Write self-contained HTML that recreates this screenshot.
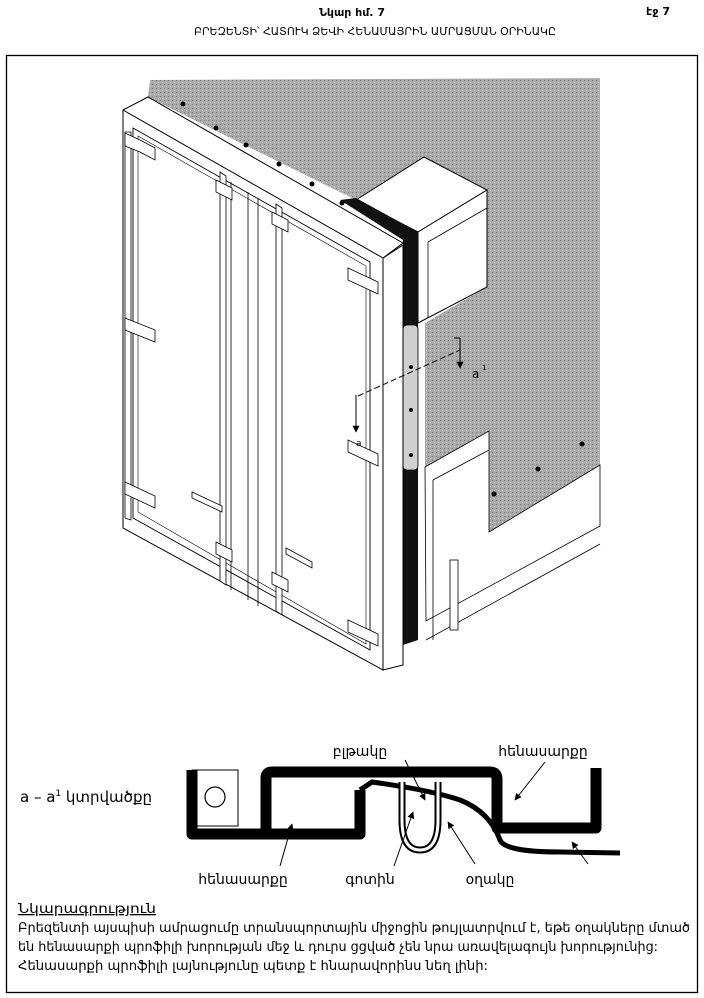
<!DOCTYPE html>
<html><head><meta charset="utf-8"><style>
html,body{margin:0;padding:0;background:#fff}
svg{display:block}
text{font-family:"DejaVu Sans","Liberation Sans",sans-serif;fill:#000}
</style></head><body>
<svg width="704" height="998" viewBox="0 0 704 998" xmlns="http://www.w3.org/2000/svg">
<defs>
<pattern id="g" width="4" height="4" patternUnits="userSpaceOnUse">
<rect width="4" height="4" fill="#a9a9a9"/><rect width="1" height="1" fill="#7a7a7a"/><rect x="2" y="2" width="1" height="1" fill="#cfcfcf"/>
</pattern>
<marker id="ah" viewBox="0 0 10 10" refX="9" refY="5" markerWidth="7" markerHeight="7" orient="auto"><path d="M0,0L10,5L0,10z" fill="#000"/></marker>
</defs>
<!-- header -->
<text x="352" y="16" font-size="11" font-weight="bold" text-anchor="middle">Նկար հմ. 7</text>
<text x="658" y="15" font-size="11" font-weight="bold" text-anchor="middle">էջ 7</text>
<text x="375" y="35" font-size="11" text-anchor="middle" textLength="362" lengthAdjust="spacingAndGlyphs">ԲՐԵԶԵՆՏԻ՝ ՀԱՏՈՒԿ ՁԵՎԻ ՀԵՆԱՄԱՅՐԻՆ ԱՄՐԱՑՄԱՆ ՕՐԻՆԱԿԸ</text>
<rect x="6.5" y="55.5" width="691" height="937" fill="none" stroke="#000" stroke-width="1.3"/>

<!-- gray wall -->
<path d="M150,80 L600,78 L600,465 L489,532 L489,431 L425,467 L425,323 L487,287 L487,190 L424,157 L356,200 Z" fill="url(#g)"/>
<path d="M150,80 L148,97 L356,200 Z" fill="url(#g)"/>
<!-- lower wall white -->
<path d="M425,467 L489,431 L489,532 L600,465 L600,526 L426,621 Z" fill="#fff" stroke="#000" stroke-width="0.8"/>
<path d="M600,544 L426,640" stroke="#000" stroke-width="0.8"/>
<path d="M433,480 L489,450" stroke="#000" stroke-width="0.8"/>
<line x1="433" y1="480" x2="433" y2="640" stroke="#000" stroke-width="0.8"/>
<!-- box -->
<path d="M356,200 L424,157 L487,190 L418,232 Z" fill="#fff" stroke="#000"/>
<path d="M418,232 L487,190 L487,287 L418,323 Z" fill="#fff" stroke="#000"/>
<path d="M428,242 L487,208" stroke="#000" stroke-width="0.8"/>
<line x1="428" y1="242" x2="428" y2="318" stroke="#000" stroke-width="0.8"/>
<!-- black seal strip -->
<path d="M340,200 L356,198 L418,232 L418,640 L403,645 L403,240 Z" fill="#111"/>
<rect x="403" y="325" width="15" height="145" rx="4" fill="#cfcfcf" stroke="#000" stroke-width="0.8"/>
<circle cx="411" cy="367" r="2" fill="#000"/><circle cx="411" cy="410" r="2" fill="#000"/><circle cx="411" cy="455" r="2" fill="#000"/>
<!-- side face -->
<path d="M383,258 L403,245 L403,665 L383,670 Z" fill="#fff" stroke="#000"/>
<!-- front face -->
<path d="M123,110 L148,97 L403,243 L383,258 L383,670 L123,528 Z" fill="#fff" stroke="#000"/>
<path d="M123,110 L383,258" stroke="#000"/>
<path d="M133,128 L370,262 L370,650 L133,518 Z" fill="#fff" stroke="#000" stroke-width="0.9"/>
<path d="M138,136 L366,266 L366,644 L138,512 Z" fill="none" stroke="#000" stroke-width="0.6"/>
<!-- door seams/bars -->
<g stroke="#000" stroke-width="0.8" fill="#fff">
<path d="M220,172 L226,176 L226,585 L220,581 Z"/>
<path d="M276,204 L282,208 L282,615 L276,611 Z"/>
<line x1="231" y1="182" x2="231" y2="590"/><line x1="248" y1="192" x2="248" y2="600"/><line x1="258" y1="198" x2="258" y2="606"/>
<path d="M125,132 L131,132 L131,520 L125,518 Z"/>
<path d="M125,133 L140,140 L155,148 L155,160 L140,152 L125,146 Z"/>
<path d="M125,318 L155,330 L155,342 L125,330 Z"/>
<path d="M125,482 L155,496 L155,508 L125,494 Z"/>
<path d="M216,180 L232,188 L232,200 L216,192 Z"/>
<path d="M216,542 L232,550 L232,562 L216,554 Z"/>
<path d="M272,212 L288,220 L288,232 L272,224 Z"/>
<path d="M272,572 L288,580 L288,592 L272,584 Z"/>
<path d="M348,268 L378,282 L378,294 L348,280 Z"/>
<path d="M348,440 L378,454 L378,466 L348,452 Z"/>
<path d="M348,620 L378,634 L378,646 L348,632 Z"/>
<path d="M192,492 L222,506 L222,512 L192,498 Z"/>
<path d="M286,548 L312,562 L312,568 L286,554 Z"/>
</g>
<!-- rivets -->
<g fill="#000"><circle cx="183" cy="104" r="2.5"/><circle cx="216" cy="128" r="2.5"/><circle cx="246" cy="145" r="2.5"/><circle cx="279" cy="164" r="2.5"/><circle cx="312" cy="184" r="2.5"/><circle cx="342" cy="203" r="2.5"/><circle cx="582" cy="444" r="2.5"/><circle cx="538" cy="469" r="2.5"/><circle cx="494" cy="494" r="2.5"/></g>
<!-- bracket bottom -->
<rect x="450" y="560" width="8" height="70" fill="#fff" stroke="#000" stroke-width="0.8"/>
<!-- section lines -->
<path d="M358,396 L460,350" stroke="#000" stroke-dasharray="6,3" fill="none"/>
<path d="M460,338 L460,368" stroke="#000" marker-end="url(#ah)"/>
<path d="M454,338 L460,338" stroke="#000"/>
<text x="472" y="378" font-size="12" font-family="Liberation Serif">a</text><text x="482" y="370" font-size="7" font-family="Liberation Serif">1</text>
<path d="M356,395 L356,432" stroke="#000" marker-end="url(#ah)"/>
<text x="356" y="446" font-size="9" font-family="Liberation Serif">a</text>

<!-- lower section diagram -->
<text x="20" y="802" font-size="15" font-family="Liberation Serif">a – a<tspan font-size="9" dy="-6">1</tspan><tspan dy="6"> կտրվածքը</tspan></text>
<rect x="192" y="770" width="46" height="56" fill="#fff" stroke="#000"/>
<circle cx="215" cy="797" r="10" fill="none" stroke="#000" stroke-width="1.2"/>
<path d="M192,770 L192,834 L360,834 L360,790" fill="none" stroke="#000" stroke-width="11" stroke-linejoin="round"/>
<path d="M266,834 L266,778 Q266,772 272,772 L490,772 Q497,772 497,779 L497,828 L596,828 L596,768" fill="none" stroke="#000" stroke-width="11" stroke-linejoin="round"/>
<path d="M360,790 L372,782 Q430,790 460,800 Q490,812 500,840 Q505,852 560,852 L620,853" fill="none" stroke="#000" stroke-width="5"/>
<path d="M402,782 L402,820 Q402,850 420,850 Q438,850 438,820 L438,782" fill="none" stroke="#000" stroke-width="7"/>
<path d="M402,782 L402,820 Q402,850 420,850 Q438,850 438,820 L438,782" fill="none" stroke="#fff" stroke-width="3"/>
<text x="360" y="756" font-size="14" text-anchor="middle">բլթակը</text>
<text x="543" y="756" font-size="14" text-anchor="middle">հենասարքը</text>
<text x="243" y="884" font-size="14" text-anchor="middle">հենասարքը</text>
<text x="370" y="884" font-size="14" text-anchor="middle">գոտին</text>
<text x="490" y="884" font-size="14" text-anchor="middle">օղակը</text>
<g stroke="#000" stroke-width="1" marker-end="url(#ah)">
<line x1="405" y1="760" x2="425" y2="800"/>
<line x1="545" y1="762" x2="515" y2="800"/>
<line x1="280" y1="866" x2="292" y2="824"/>
<line x1="394" y1="866" x2="413" y2="812"/>
<line x1="475" y1="864" x2="448" y2="822"/>
<line x1="588" y1="864" x2="572" y2="842"/>
</g>

<!-- caption -->
<text x="18" y="913" font-size="13" text-decoration="underline" textLength="138" lengthAdjust="spacingAndGlyphs">Նկարագրություն</text>
<text x="18" y="932" font-size="13" textLength="672" lengthAdjust="spacingAndGlyphs">Բրեզենտի այսպիսի ամրացումը տրանսպորտային միջոցին թույլատրվում է, եթե օղակները մտած</text>
<text x="18" y="951" font-size="13" textLength="640" lengthAdjust="spacingAndGlyphs">են հենասարքի պրոֆիլի խորության մեջ և դուրս ցցված չեն նրա առավելագույն խորությունից:</text>
<text x="18" y="970" font-size="13" textLength="470" lengthAdjust="spacingAndGlyphs">Հենասարքի պրոֆիլի լայնությունը պետք է հնարավորինս նեղ լինի:</text>
</svg>
</body></html>
